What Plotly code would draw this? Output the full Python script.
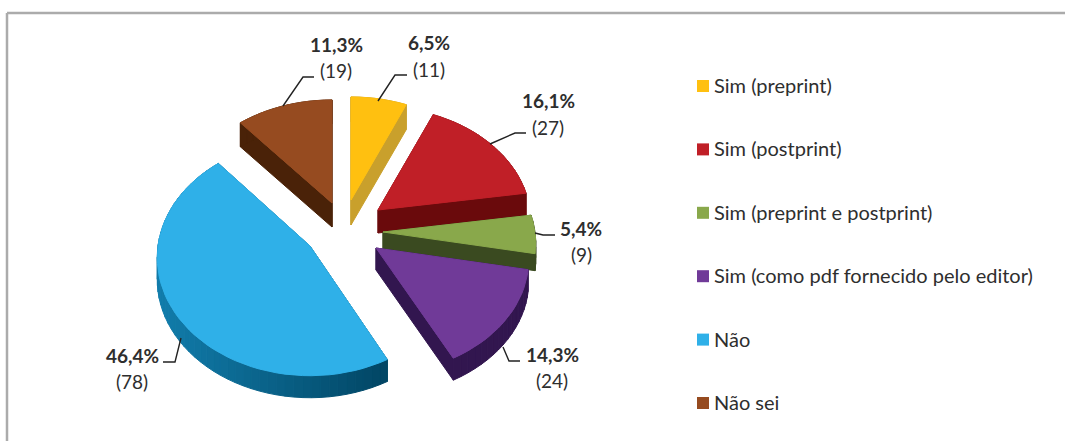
import math
import plotly.graph_objects as go

categories = ["Sim (preprint)", "Sim (postprint)", "Sim (preprint e postprint)",
              "Sim (como pdf fornecido pelo editor)", "Não", "Não sei"]
counts = [11, 27, 9, 24, 78, 19]

# styling
top_colors = ["#FFC010", "#C01F27", "#89A84B", "#703A98", "#2FB0E8", "#964B20"]
wall_colors = ["#C9A02C", "#6A0A0C", "#3A4A20", "#32164F", None, "#4A2208"]
apexes = [(351, 200), (378, 210), (383, 232), (376, 248), (310, 246), (332, 203)]
depths = [25, 23, 17, 22, 22, 24]
scales = [(1, 1), (1, 1), (1, 1), (1, 1), (1.0, 1.03), (1, 1)]
RX, RY, PERSP = 152, 114.5, 0.10
draw_order = [5, 0, 1, 2, 3, 4]
FONT = "Lato"
TEXT = "#2E2E2E"
label_pos = [(429, 42, 69), (548, 100, 127), (581, 228, 254), (552, 354, 380), (132, 355, 381), (336, 44, 70)]
leaders = [[(378, 101), (395, 75), (407, 75)], [(490, 144), (515, 133), (526, 133)],
           [(535, 233), (543, 235), (555, 235)], [(503, 347), (509, 361), (520, 361)],
           [(181, 338), (175, 362), (163, 362)], [(283, 106), (303, 77), (314, 77)]]

total = sum(counts)


def project(apex, deg, sc):
    t = math.radians(deg)
    f = 1 - PERSP * math.cos(t)
    return apex[0] + sc[0] * RX * math.sin(t) * f, apex[1] - sc[1] * RY * math.cos(t) * f


fig = go.Figure()


def poly(x, y, color):
    fig.add_trace(go.Scatter(x=x, y=y, mode="lines", fill="toself", fillcolor=color,
                             line=dict(color=color, width=1), hoverinfo="skip", showlegend=False))


spans = []
acc = 0
for c in counts:
    spans.append((acc / total * 360, (acc + c) / total * 360))
    acc += c

for i in draw_order:
    a0, a1 = spans[i]
    apex, d = apexes[i], depths[i]
    n = max(2, int((a1 - a0) / 3))
    degs = [a0 + (a1 - a0) * k / n for k in range(n + 1)]
    rim = [project(apex, a, scales[i]) for a in degs]
    outline = [apex] + rim
    m = len(outline)
    xlo, xhi = min(p[0] for p in rim), max(p[0] for p in rim)
    for k in range(m):
        p, q = outline[k], outline[(k + 1) % m]
        if wall_colors[i]:
            col = wall_colors[i]
        else:
            # rim with a left-to-right shade
            u = min(1, max(0, ((p[0] + q[0]) / 2 - xlo) / (xhi - xlo)))
            col = "rgb(%d,%d,%d)" % (18 - 16 * u, 125 - 55 * u, 172 - 72 * u)
        poly([p[0], q[0], q[0], p[0], p[0]], [p[1], q[1], q[1] + d, p[1] + d, p[1]], col)
    poly([p[0] for p in outline] + [apex[0]], [p[1] for p in outline] + [apex[1]], top_colors[i])

for pts in leaders:
    fig.add_trace(go.Scatter(x=[p[0] for p in pts], y=[p[1] for p in pts], mode="lines",
                             line=dict(color="#222222", width=1.4), hoverinfo="skip", showlegend=False))

annotations = []
for c, (x, y1, y2) in zip(counts, label_pos):
    pct = f"{c / total * 100:.1f}".replace(".", ",") + "%"
    annotations.append(dict(x=x, y=y1, text=f"<b>{pct}</b>", showarrow=False, xref="x", yref="y",
                            font=dict(family=FONT, size=19, color=TEXT)))
    annotations.append(dict(x=x, y=y2, text=f"({c})", showarrow=False, xref="x", yref="y",
                            font=dict(family=FONT, size=19, color=TEXT)))

# legend column
LEG_Y0, LEG_STEP = 85, 63.4
for k, (cat, col) in enumerate(zip(categories, top_colors)):
    fig.add_trace(go.Scatter(x=[703], y=[LEG_Y0 + 1 + k * LEG_STEP], mode="markers", name=cat,
                             marker=dict(symbol="square", size=12, color=col), showlegend=False,
                             hoverinfo="name"))
    annotations.append(dict(x=714, y=LEG_Y0 + k * LEG_STEP, text=cat, showarrow=False, xanchor="left",
                            xref="x", yref="y", xshift=-2, font=dict(family=FONT, size=20, color=TEXT)))

fig.update_layout(
    width=1065, height=441, margin=dict(l=0, r=0, t=0, b=0),
    paper_bgcolor="white", plot_bgcolor="white",
    xaxis=dict(range=[0, 1065], visible=False, fixedrange=True),
    yaxis=dict(range=[441, 0], visible=False, fixedrange=True),
    annotations=annotations,
    shapes=[dict(type="line", xref="x", yref="y", x0=7, y0=13, x1=1065, y1=13,
                 line=dict(color="#ABABAB", width=2.5), layer="below"),
            dict(type="line", xref="x", yref="y", x0=7, y0=13, x1=7, y1=441,
                 line=dict(color="#ABABAB", width=2.5), layer="below")],
)
fig.write_html("out.html", config={"displayModeBar": False},
               post_script="document.body.style.margin='0';document.documentElement.style.overflow='hidden';")
